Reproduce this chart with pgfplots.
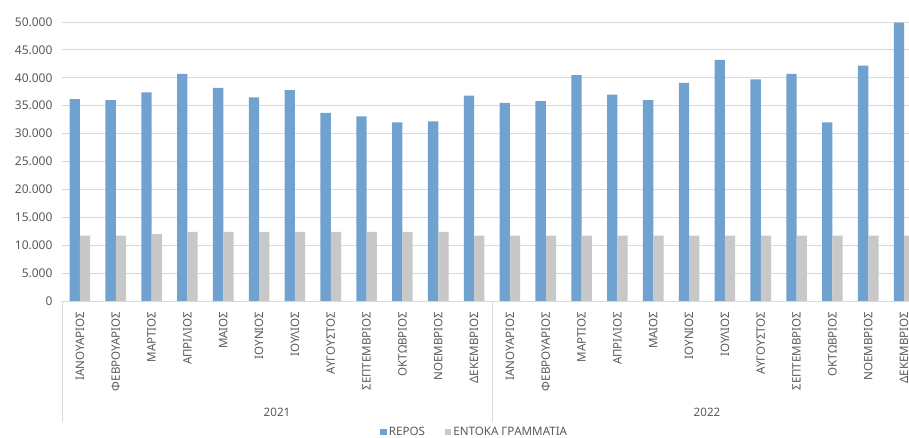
\documentclass[border=0pt]{standalone}
\usepackage{pgfplots}
\pgfplotsset{compat=1.18}
\usepackage{fontspec}
\setmainfont{Noto Sans}
\definecolor{barblue}{RGB}{113,161,206}
\definecolor{bargrey}{RGB}{200,200,200}
\definecolor{txt}{RGB}{89,89,89}
\definecolor{gridc}{RGB}{217,217,217}
\begin{document}
\begin{tikzpicture}
\useasboundingbox (-62pt,-136pt) rectangle (847pt,301pt);
\begin{axis}[
  at={(0pt,0pt)}, anchor=south west,
  scale only axis, width=860pt, height=279pt,
  ybar=0pt, bar width=10.3pt,
  xmin=-0.5, xmax=23.5, ymin=0, ymax=50000,
  ytick={0,5000,...,50000},
  scaled y ticks=false,
  /pgf/number format/.cd, 1000 sep={.}, assume math mode=true,
  /pgfplots/.cd,
  xtick=data,
  xticklabels={ΙΑΝΟΥΑΡΙΟΣ,ΦΕΒΡΟΥΑΡΙΟΣ,ΜΑΡΤΙΟΣ,ΑΠΡΙΛΙΟΣ,ΜΑΙΟΣ,ΙΟΥΝΙΟΣ,ΙΟΥΛΙΟΣ,ΑΥΓΟΥΣΤΟΣ,ΣΕΠΤΕΜΒΡΙΟΣ,ΟΚΤΩΒΡΙΟΣ,ΝΟΕΜΒΡΙΟΣ,ΔΕΚΕΜΒΡΙΟΣ,ΙΑΝΟΥΑΡΙΟΣ,ΦΕΒΡΟΥΑΡΙΟΣ,ΜΑΡΤΙΟΣ,ΑΠΡΙΛΙΟΣ,ΜΑΙΟΣ,ΙΟΥΝΙΟΣ,ΙΟΥΛΙΟΣ,ΑΥΓΟΥΣΤΟΣ,ΣΕΠΤΕΜΒΡΙΟΣ,ΟΚΤΩΒΡΙΟΣ,ΝΟΕΜΒΡΙΟΣ,ΔΕΚΕΜΒΡΙΟΣ},
  x tick label style={rotate=90, anchor=east, font=\fontsize{11.6}{13}\selectfont, text=txt},
  y tick label style={font=\fontsize{12}{14}\selectfont, text=txt},
  xticklabel shift=7pt,
  yticklabel shift=6pt,
  major tick length=0pt,
  axis line style={draw=none},
  ymajorgrids, grid style={gridc, line width=0.9pt},
  clip=false,
  legend columns=2,
  legend style={draw=none, fill=none, at={(0.480,-0.4695)}, anchor=center,
    font=\fontsize{11.6}{13}\selectfont, text=txt,
    /tikz/every even column/.append style={column sep=18pt}},
  legend image code/.code={\fill[#1] (0pt,-3.2pt) rectangle (6.4pt,3.2pt);},
]
\addplot[fill=barblue, draw=none] coordinates {
 (0,36200) (1,36000) (2,37400) (3,40700) (4,38200) (5,36500) (6,37800) (7,33700) (8,33100) (9,32000) (10,32200) (11,36800)
 (12,35500) (13,35800) (14,40500) (15,37000) (16,36000) (17,39100) (18,43200) (19,39700) (20,40700) (21,32000) (22,42200) (23,49900)};
\addplot[fill=bargrey, draw=none] coordinates {
 (0,11700) (1,11700) (2,12000) (3,12400) (4,12400) (5,12400) (6,12400) (7,12400) (8,12400) (9,12400) (10,12400) (11,11700)
 (12,11700) (13,11700) (14,11700) (15,11700) (16,11700) (17,11700) (18,11700) (19,11700) (20,11700) (21,11700) (22,11700) (23,11700)};
\legend{REPOS, ΕΝΤΟΚΑ ΓΡΑΜΜΑΤΙΑ}
\draw[gridc, line width=0.9pt] (axis cs:-0.5,0) -- (axis cs:23.5,0);
\draw[gridc, line width=0.9pt] (axis cs:-0.5,0) -- ([yshift=-121pt]axis cs:-0.5,0);
\draw[gridc, line width=0.9pt] (axis cs:11.5,0) -- ([yshift=-121pt]axis cs:11.5,0);
\draw[gridc, line width=0.9pt] (axis cs:23.5,0) -- ([yshift=-121pt]axis cs:23.5,0);
\node[text=txt, font=\fontsize{11.6}{14}\selectfont] at ([yshift=-111pt]axis cs:5.5,0) {2021};
\node[text=txt, font=\fontsize{11.6}{14}\selectfont] at ([yshift=-111pt]axis cs:17.5,0) {2022};
\end{axis}
\end{tikzpicture}
\end{document}
